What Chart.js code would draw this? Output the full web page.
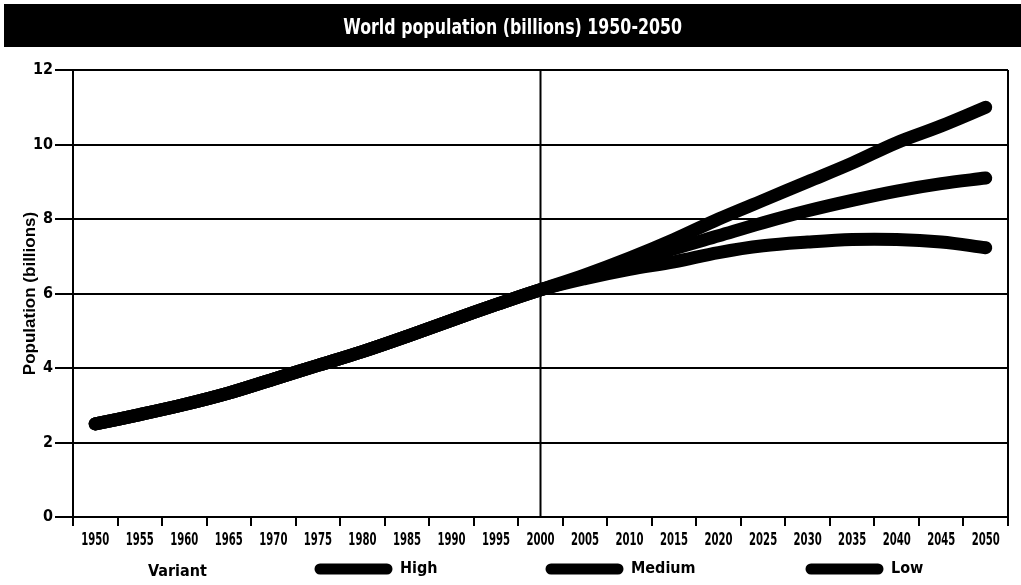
<!DOCTYPE html>
<html>
<head>
<meta charset="utf-8">
<script src="https://cdn.jsdelivr.net/npm/chart.js@4.4.1/dist/chart.umd.min.js"></script>
<style>
  body { margin: 0; background: #fff; }
  #wrap { position: relative; width: 1021px; height: 585px; }
  #bar {
    position: absolute; left: 4px; top: 4px; width: 1017px; height: 43px;
    background: #000; color: #fff; text-align: center;
    font: bold 22px "DejaVu Sans Condensed", sans-serif;
    line-height: 46px;
  }
  #bar span { display: inline-block; transform: scaleX(0.8); }
  canvas { position: absolute; left: 0; top: 0; }
</style>
</head>
<body>
<div id="wrap">
  <canvas id="myChart" width="1021" height="585"></canvas>
  <div id="bar"><span>World population (billions) 1950-2050</span></div>
</div>
<script>
// data
const years = ["1950", "1955", "1960", "1965", "1970", "1975", "1980", "1985", "1990", "1995",
  "2000", "2005", "2010", "2015", "2020", "2025", "2030", "2035", "2040", "2045", "2050"];
const history = [2.5, 2.75, 3.02, 3.33, 3.7, 4.07, 4.44, 4.85, 5.28, 5.7, 6.1]; // 1950-2000
const high = [6.5, 6.95, 7.45, 8.0, 8.5, 9.0, 9.5, 10.05, 10.5, 11.0];          // 2005-2050
const medium = [6.45, 6.8, 7.2, 7.55, 7.9, 8.22, 8.5, 8.75, 8.95, 9.1];
const low = [6.4, 6.65, 6.85, 7.1, 7.28, 7.38, 7.45, 7.45, 7.38, 7.23];
const yTicks = [0, 2, 4, 6, 8, 10, 12];
const variants = ["High", "Medium", "Low"];

const cond = '"DejaVu Sans Condensed", sans-serif';

function lineSet(label, proj) {
  return {
    label: label,
    data: history.concat(proj),
    borderColor: "#000",
    borderWidth: 13,
    borderCapStyle: "round",
    borderJoinStyle: "round",
    pointRadius: 0,
    tension: 0.35,
    fill: false,
  };
}

// vertical line at 2000 + right edge of the frame
const frame = {
  id: "frame",
  beforeDatasetsDraw(chart) {
    const c = chart.ctx, a = chart.chartArea;
    const x = chart.scales.x.getPixelForValue(years.indexOf("2000"));
    c.save();
    c.strokeStyle = "#000";
    c.lineWidth = 2;
    c.beginPath();
    c.moveTo(x, a.top);
    c.lineTo(x, a.bottom);
    c.moveTo(a.right, a.top);
    c.lineTo(a.right, a.bottom);
    c.stroke();
    c.restore();
  },
};

// x labels drawn squeezed, like the scanned original
const squeezedLabels = {
  id: "squeezedLabels",
  afterDraw(chart) {
    const c = chart.ctx, xs = chart.scales.x;
    c.save();
    c.fillStyle = "#000";
    c.font = "bold 17px " + cond;
    c.textAlign = "center";
    c.textBaseline = "middle";
    xs.ticks.forEach(function (t, i) {
      const x = xs.getPixelForTick(i);
      c.save();
      c.translate(x, xs.bottom - 4);
      c.scale(0.66, 1);
      c.fillText(xs.getLabelForValue(t.value), 0, 0);
      c.restore();
    });
    c.restore();
  },
};

// legend row at the bottom: "Variant" then line samples
const legendRow = {
  id: "legendRow",
  afterDraw(chart) {
    const c = chart.ctx;
    const y = 569;
    const startX = [315, 546, 806];
    c.save();
    c.fillStyle = "#000";
    c.strokeStyle = "#000";
    c.font = "bold 16px " + cond;
    c.textBaseline = "middle";
    c.fillText("Variant", 148, y + 3);
    chart.data.datasets.forEach(function (ds, i) {
      c.lineWidth = 11;
      c.lineCap = "round";
      c.beginPath();
      c.moveTo(startX[i] + 5, y);
      c.lineTo(startX[i] + 72, y);
      c.stroke();
      c.fillText(ds.label, startX[i] + 85, y);
    });
    c.restore();
  },
};

new Chart(document.getElementById("myChart"), {
  type: "line",
  data: {
    labels: years,
    datasets: [lineSet(variants[0], high), lineSet(variants[1], medium), lineSet(variants[2], low)],
  },
  plugins: [frame, squeezedLabels, legendRow],
  options: {
    responsive: false,
    animation: false,
    layout: { padding: { top: 70, right: 13, bottom: 40, left: 0 } },
    plugins: { legend: { display: false }, tooltip: { enabled: false } },
    scales: {
      x: {
        offset: true,
        grid: { offset: true, drawOnChartArea: false, color: "#000", lineWidth: 2, tickLength: 9 },
        border: { color: "#000", width: 2 },
        ticks: { display: false, autoSkip: false },
        afterFit(s) { s.height = 28; },
      },
      y: {
        min: 0,
        max: 12,
        afterBuildTicks(s) { s.ticks = yTicks.map(v => ({ value: v })); },
        grid: { color: "#000", lineWidth: 2, tickLength: 18 },
        border: { color: "#000", width: 2 },
        ticks: { color: "#000", font: { family: cond, size: 16, weight: "bold" }, padding: 2 },
        title: { display: true, text: "Population (billions)", color: "#000",
          padding: { top: 20, bottom: 0 },
          font: { family: '"Liberation Sans", Arial, sans-serif', size: 17, weight: "bold" } },
        afterFit(s) { s.width = 73; },
      },
    },
  },
});
</script>
</body>
</html>
